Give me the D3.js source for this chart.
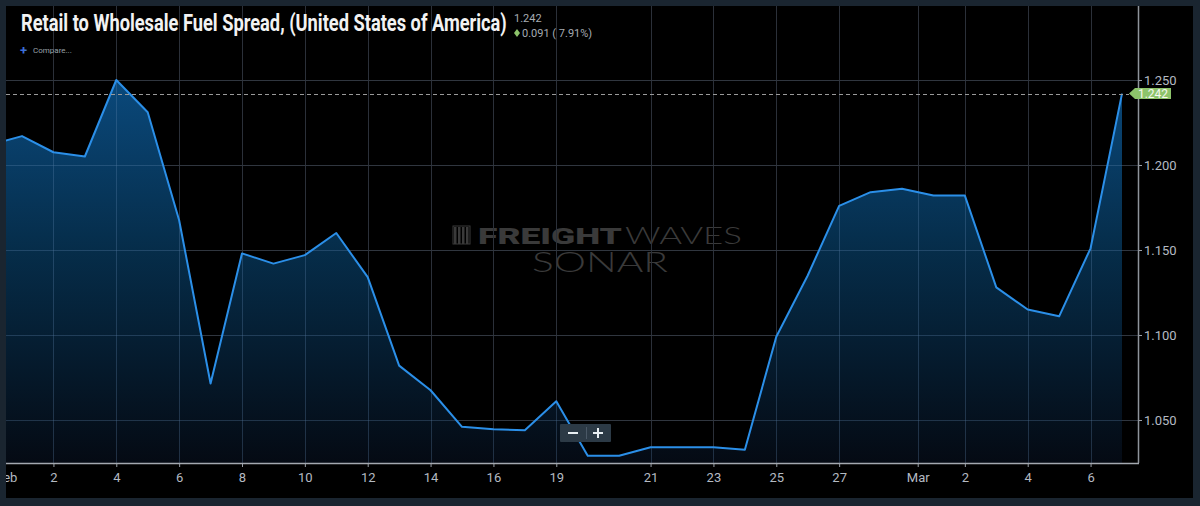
<!DOCTYPE html>
<html>
<head>
<meta charset="utf-8">
<script src="https://cdn.jsdelivr.net/npm/d3@7"></script>
<style>
  html, body { margin: 0; padding: 0; background: #1a2530; }
  #chart { width: 1200px; height: 506px; }
  text { font-family: Roboto, "Noto Sans", sans-serif; }
</style>
</head>
<body>
<div id="chart"></div>
<script>
// spread values, one per trading point (first one sits just off the left edge)
const firstIndex = -1;
const values = [1.212, 1.217, 1.2075, 1.205, 1.250, 1.231, 1.1675, 1.0715, 1.148, 1.142,
  1.147, 1.160, 1.134, 1.082, 1.0675, 1.046, 1.0445, 1.044, 1.061, 1.029,
  1.029, 1.034, 1.034, 1.034, 1.0325, 1.099, 1.135, 1.176, 1.184, 1.186,
  1.182, 1.182, 1.128, 1.115, 1.111, 1.151, 1.242];

const xTickLabels = ['Feb', '2', '4', '6', '8', '10', '12', '14', '16', '19', '21', '23', '25', '27', 'Mar', '2', '4', '6'];
const xTickIndex = [-0.5, 1, 3, 5, 7, 9, 11, 13, 15, 17, 20, 22, 24, 26, 28.5, 30, 32, 34];
const yTicks = [1.050, 1.100, 1.150, 1.200, 1.250];

const title = 'Retail to Wholesale Fuel Spread, (United States of America)';
const lastValue = 1.242;
const change = '0.091 ( 7.91%)';

const W = 1200, H = 506;
const plot = {left: 6, right: 1138, top: 6, bottom: 463};

const svg = d3.select('#chart').append('svg')
  .attr('width', W)
  .attr('height', H);

const defs = svg.append('defs');
defs.append('clipPath').attr('id', 'plot-clip')
  .append('rect')
    .attr('x', plot.left).attr('y', plot.top)
    .attr('width', plot.right - plot.left).attr('height', plot.bottom - plot.top);

const grad = defs.append('linearGradient')
  .attr('id', 'area-grad')
  .attr('gradientUnits', 'userSpaceOnUse')
  .attr('x1', 0).attr('x2', 0).attr('y1', 80).attr('y2', plot.bottom);
grad.append('stop').attr('offset', 0).attr('stop-color', '#0b4f86');
grad.append('stop').attr('offset', 0.45).attr('stop-color', '#06304f');
grad.append('stop').attr('offset', 1).attr('stop-color', '#050b15');

// black panel
svg.append('rect')
  .attr('x', 6).attr('y', 6)
  .attr('width', 1187).attr('height', 492)
  .attr('fill', '#000');

const x = d3.scaleLinear().domain([0, 35]).range([22, 1122]);
const y = d3.scaleLinear().domain([1.05, 1.25]).range([420, 80]);

const pts = values.map((v, i) => ({i: i + firstIndex, v}));
const gridX = xTickIndex.filter(d => x(d) > plot.left + 2);

// watermark
const wm = svg.append('g').attr('fill', '#3a3a3a');
[0, 4, 8, 12].forEach(o => {
  wm.append('rect').attr('x', 454 + o).attr('y', 227).attr('width', 2.5).attr('height', 17);
});
wm.append('rect').attr('x', 453).attr('y', 226).attr('width', 17).attr('height', 18)
  .attr('fill', 'none').attr('stroke', '#3a3a3a').attr('stroke-width', 1);
wm.append('text').text('FREIGHT')
  .attr('x', 478).attr('y', 244)
  .attr('font-size', 22).attr('font-weight', 900)
  .attr('textLength', 144).attr('lengthAdjust', 'spacingAndGlyphs');
wm.append('text').text('WAVES')
  .attr('x', 625).attr('y', 244)
  .attr('font-size', 23).attr('font-weight', 300)
  .style('font-family', 'Lato, Roboto, sans-serif')
  .attr('textLength', 117).attr('lengthAdjust', 'spacingAndGlyphs');
wm.append('text').text('SONAR')
  .attr('x', 532).attr('y', 272)
  .attr('font-size', 28).attr('font-weight', 300)
  .style('font-family', 'Lato, Roboto, sans-serif')
  .attr('textLength', 136).attr('lengthAdjust', 'spacingAndGlyphs');

// grid
const grid = svg.append('g').attr('stroke', '#2b3039').attr('stroke-width', 1);
grid.selectAll('.vg')
  .data(gridX)
  .join('line')
    .attr('x1', d => Math.round(x(d)) + 0.5).attr('x2', d => Math.round(x(d)) + 0.5)
    .attr('y1', plot.top).attr('y2', plot.bottom);
grid.selectAll('.hg')
  .data(yTicks)
  .join('line')
    .attr('x1', plot.left).attr('x2', plot.right)
    .attr('y1', d => Math.round(y(d)) + 0.5).attr('y2', d => Math.round(y(d)) + 0.5)
    .attr('stroke', '#30363f');

// area + line
const clipped = svg.append('g').attr('clip-path', 'url(#plot-clip)');
const area = d3.area().x(d => x(d.i)).y0(plot.bottom).y1(d => y(d.v));
clipped.append('path')
  .datum(pts)
  .attr('fill', 'url(#area-grad)')
  .attr('fill-opacity', 0.92)
  .attr('d', area);

// grid shows faintly through the fill
defs.append('clipPath').attr('id', 'area-clip')
  .append('path').datum(pts).attr('d', area);
const gridOver = clipped.append('g')
  .attr('clip-path', 'url(#area-clip)')
  .attr('stroke', '#5a7fa6').attr('stroke-opacity', 0.3);
gridOver.selectAll('.vo')
  .data(gridX)
  .join('line')
    .attr('x1', d => Math.round(x(d)) + 0.5).attr('x2', d => Math.round(x(d)) + 0.5)
    .attr('y1', plot.top).attr('y2', plot.bottom);
gridOver.selectAll('.ho')
  .data(yTicks)
  .join('line')
    .attr('x1', plot.left).attr('x2', plot.right)
    .attr('y1', d => Math.round(y(d)) + 0.5).attr('y2', d => Math.round(y(d)) + 0.5);

clipped.append('path')
  .datum(pts)
  .attr('fill', 'none')
  .attr('stroke', '#2b8fe8')
  .attr('stroke-width', 2)
  .attr('stroke-linejoin', 'round')
  .attr('d', d3.line().x(d => x(d.i)).y(d => y(d.v)));

// last value dashed line
svg.append('line')
  .attr('x1', plot.left).attr('x2', 1129)
  .attr('y1', Math.round(y(lastValue)) + 0.5).attr('y2', Math.round(y(lastValue)) + 0.5)
  .attr('stroke', '#9a9a9a')
  .attr('stroke-dasharray', '4,3');

// x axis
const xAxis = svg.append('g')
  .attr('transform', `translate(0,${plot.bottom})`)
  .call(d3.axisBottom(x)
    .tickValues(xTickIndex)
    .tickFormat((d, i) => xTickLabels[i])
    .tickSize(4)
    .tickPadding(6));
xAxis.select('.domain').remove();
xAxis.selectAll('line').attr('stroke', '#9aa0a8');
xAxis.selectAll('text')
  .attr('fill', '#b4bac2')
  .attr('font-size', 13)
  .style('font-family', 'Roboto, sans-serif');
xAxis.selectAll('.tick').filter(d => x(d) < plot.left + 2).select('line').remove();

// frame strip on the left hides the spill of "Feb"
svg.append('rect').attr('x', 0).attr('y', 0).attr('width', 6).attr('height', H).attr('fill', '#1a2530');

svg.append('line')
  .attr('x1', plot.left).attr('x2', plot.right + 1)
  .attr('y1', plot.bottom + 0.5).attr('y2', plot.bottom + 0.5)
  .attr('stroke', '#a4a9b0').attr('stroke-width', 1.5);

// y axis on the right
const yAxis = svg.append('g')
  .attr('transform', `translate(${plot.right},0)`)
  .call(d3.axisRight(y)
    .tickValues(yTicks)
    .tickFormat(d3.format('.3f'))
    .tickSize(4)
    .tickPadding(2));
yAxis.select('.domain').remove();
yAxis.selectAll('line').attr('stroke', '#9aa0a8');
yAxis.selectAll('text')
  .attr('fill', '#b4bac2')
  .attr('font-size', 13)
  .style('font-family', 'Roboto, sans-serif');

svg.append('line')
  .attr('x1', plot.right + 0.5).attr('x2', plot.right + 0.5)
  .attr('y1', plot.top).attr('y2', plot.bottom)
  .attr('stroke', '#8e949b').attr('stroke-width', 1.5);

// last value flag
const ly = y(lastValue);
svg.append('path')
  .attr('d', `M1129,${ly} L1135,${ly - 5.5} L1171,${ly - 5.5} L1171,${ly + 5.5} L1135,${ly + 5.5} Z`)
  .attr('fill', '#8dc46b');
svg.append('text')
  .text(d3.format('.3f')(lastValue))
  .attr('x', 1153).attr('y', ly + 4.5)
  .attr('text-anchor', 'middle')
  .attr('font-size', 12)
  .attr('fill', '#f4f8f0');

// zoom buttons
const zb = svg.append('g');
zb.append('rect').attr('x', 560).attr('y', 424).attr('width', 51).attr('height', 18)
  .attr('rx', 1).attr('fill', '#2c3a46');
zb.append('line').attr('x1', 586.5).attr('x2', 586.5).attr('y1', 427).attr('y2', 439)
  .attr('stroke', '#4a5866');
zb.append('line').attr('x1', 568).attr('x2', 578).attr('y1', 433).attr('y2', 433)
  .attr('stroke', '#e8eef2').attr('stroke-width', 2);
zb.append('line').attr('x1', 593).attr('x2', 603).attr('y1', 433).attr('y2', 433)
  .attr('stroke', '#e8eef2').attr('stroke-width', 2);
zb.append('line').attr('x1', 598).attr('x2', 598).attr('y1', 428).attr('y2', 438)
  .attr('stroke', '#e8eef2').attr('stroke-width', 2);

// title block: condensed by scaling the measured text to the target width
const titleText = svg.append('text')
  .text(title)
  .attr('font-size', 24)
  .attr('font-weight', 700)
  .attr('fill', '#f2f2f2');
const tw = titleText.node().getComputedTextLength();
titleText.attr('transform', `translate(21,31) scale(${486 / tw},1)`);

svg.append('text')
  .text(d3.format('.3f')(lastValue))
  .attr('x', 514).attr('y', 22)
  .attr('font-size', 11)
  .attr('fill', '#a6acb3');
svg.append('path')
  .attr('d', 'M517,29 L520,33 L517,37 L514,33 Z')
  .attr('fill', '#8dc46b');
svg.append('text')
  .text(change)
  .attr('x', 522).attr('y', 37)
  .attr('font-size', 11)
  .attr('fill', '#a6acb3');

svg.append('text')
  .text('+')
  .attr('x', 20).attr('y', 55)
  .attr('font-size', 13)
  .attr('font-weight', 700)
  .attr('fill', '#3d6fd6');
svg.append('text')
  .text('Compare...')
  .attr('x', 33).attr('y', 53)
  .attr('font-size', 8)
  .attr('fill', '#9aa2aa');
</script>
</body>
</html>
